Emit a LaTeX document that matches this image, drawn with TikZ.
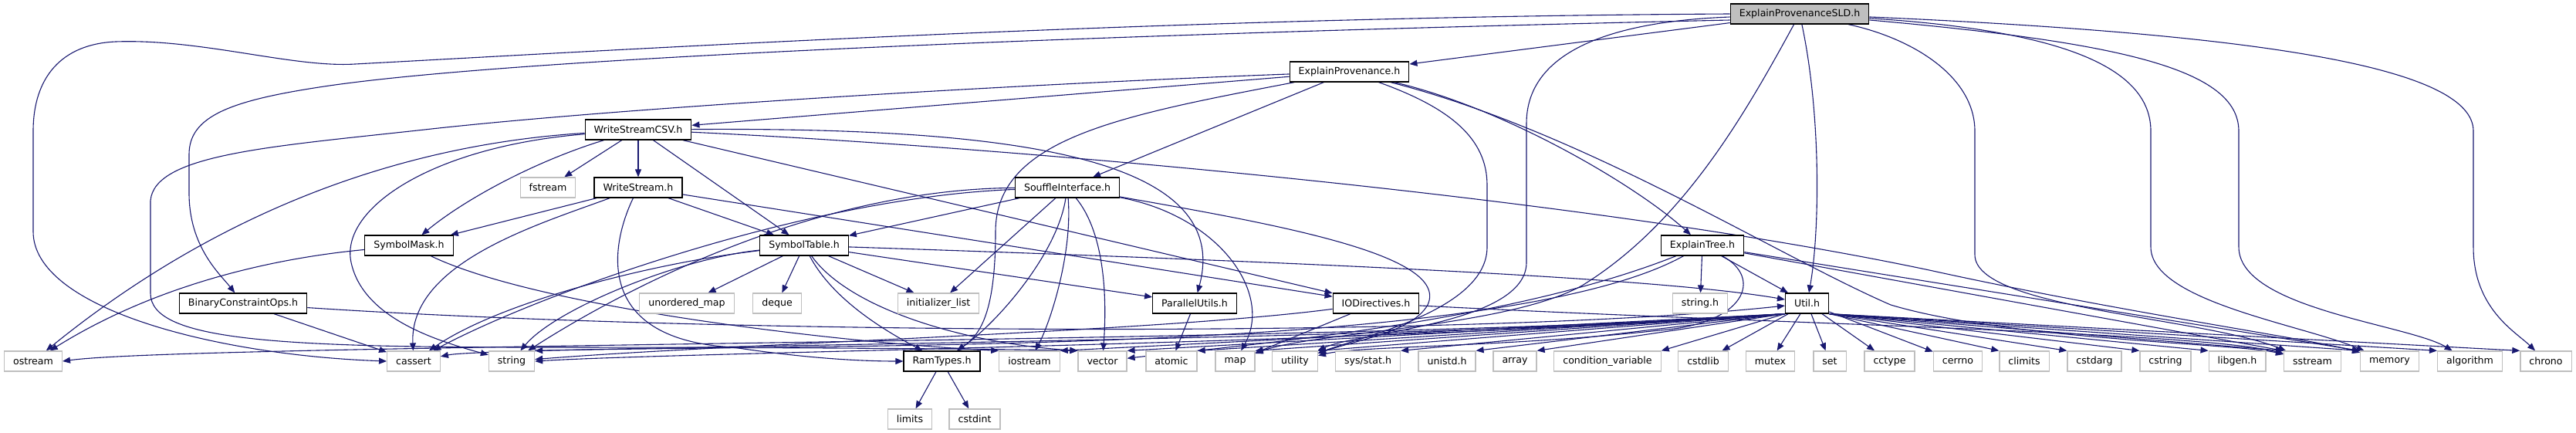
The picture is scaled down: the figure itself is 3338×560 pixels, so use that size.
\documentclass[tikz,border=0pt]{standalone}
\usepackage{fontspec}
\setmainfont{DejaVu Sans}
\usetikzlibrary{arrows.meta,backgrounds}
\definecolor{edgeblue}{HTML}{191970}
\definecolor{extgrey}{HTML}{BFBFBF}
\definecolor{rootgrey}{HTML}{BFBFBF}

\begin{document}
\begin{tikzpicture}[x=1pt, y=-1pt]
    \tikzstyle{header} = [rectangle, draw=black, fill=white, line width=1.2pt, font=\fontsize{12.6}{14}\selectfont, inner xsep=11.5pt, inner ysep=0pt, minimum height=26pt]
    \tikzstyle{sysheader} = [header, draw=extgrey]
    \tikzstyle{mainheader} = [header, fill=rootgrey]
    \tikzstyle{dep} = [line width=1.1pt, -{Triangle[length=10pt, width=8pt]}, draw=edgeblue]

    \useasboundingbox (0,0) rectangle (3338,560);

    \node [mainheader] (sld) at (2332,18) {ExplainProvenanceSLD.h};
    \node [header] (ep) at (1748.5,93) {ExplainProvenance.h};
    \node [header] (wscsv) at (827,168) {WriteStreamCSV.h};
    \node [sysheader] (fstream) at (710,243) {fstream};
    \node [header] (ws) at (827,243) {WriteStream.h};
    \node [header] (si) at (1383,243) {SouffleInterface.h};
    \node [header] (smask) at (530,318) {SymbolMask.h};
    \node [header] (stable) at (1042,318) {SymbolTable.h};
    \node [header] (etree) at (2206,318) {ExplainTree.h};
    \node [header] (bco) at (315,393) {BinaryConstraintOps.h};
    \node [sysheader] (umap) at (890,393) {unordered\_map};
    \node [sysheader] (deque) at (1007,393) {deque};
    \node [sysheader] (initl) at (1216,393) {initializer\_list};
    \node [header] (putils) at (1548,393) {ParallelUtils.h};
    \node [header] (iodir) at (1783,393) {IODirectives.h};
    \node [sysheader] (stringh) at (2203,393) {string.h};
    \node [header] (util) at (2341.6,393) {Util.h};
    \node [sysheader] (ostream) at (43,468) {ostream};
    \node [sysheader] (cassert) at (536,468) {cassert};
    \node [sysheader] (string) at (663,468) {string};
    \node [header] (ramtypes) at (1220.5,468) {RamTypes.h};
    \node [sysheader] (iostream) at (1334,468) {iostream};
    \node [sysheader] (vector) at (1428.5,468) {vector};
    \node [sysheader] (atomic) at (1518,468) {atomic};
    \node [sysheader] (map) at (1600.5,468) {map};
    \node [sysheader] (utility) at (1678,468) {utility};
    \node [sysheader] (sysstat) at (1772.5,468) {sys/stat.h};
    \node [sysheader] (unistd) at (1875,468) {unistd.h};
    \node [sysheader] (array) at (1963,468) {array};
    \node [sysheader] (condvar) at (2083,468) {condition\_variable};
    \node [sysheader] (cstdlib) at (2207,468) {cstdlib};
    \node [sysheader] (mutex) at (2294,468) {mutex};
    \node [sysheader] (set) at (2371,468) {set};
    \node [sysheader] (cctype) at (2448.5,468) {cctype};
    \node [sysheader] (cerrno) at (2537,468) {cerrno};
    \node [sysheader] (climits) at (2623,468) {climits};
    \node [sysheader] (cstdarg) at (2714,468) {cstdarg};
    \node [sysheader] (cstring) at (2806,468) {cstring};
    \node [sysheader] (libgen) at (2899,468) {libgen.h};
    \node [sysheader] (sstream) at (2996.5,468) {sstream};
    \node [sysheader] (memory) at (3096.5,468) {memory};
    \node [sysheader] (algorithm) at (3200.5,468) {algorithm};
    \node [sysheader] (chrono) at (3299,468) {chrono};
    \node [sysheader] (limits) at (1179,543) {limits};
    \node [sysheader] (cstdint) at (1263,543) {cstdint};

    \begin{scope}[on background layer]
    \draw [dep] (sld) -- (ep);
    \draw [dep] ([yshift=-8pt]sld.west) .. controls (1600,40) and (700,70) .. (420,112) .. controls (300,130) and (245,150) .. (245,200) -- (245,250) .. controls (245,320) and (285,355) .. (bco);
    \draw [dep] (sld.west) .. controls (1500,22) and (800,65) .. (460,83) .. controls (380,88) and (260,50) .. (150,54) .. controls (80,57) and (43,100) .. (43,170) -- (43,300) .. controls (43,400) and (280,460) .. (cassert.west);
    \draw [dep] (sld) .. controls (2360,150) and (2358,300) .. (util);
    \draw [dep] ([yshift=-4pt]sld.west) .. controls (2080,28) and (1978,70) .. (1978,160) -- (1978,340) .. controls (1978,420) and (1760,430) .. (utility);
    \draw [dep] (sld) .. controls (2260,150) and (2180,290) .. (2050,370) .. controls (1950,425) and (1700,430) .. (map);
    \draw [dep] (sld) .. controls (2480,50) and (2559,100) .. (2559,170) -- (2559,330) .. controls (2559,400) and (2850,410) .. (sstream);
    \draw [dep] (sld) .. controls (2680,40) and (2787,90) .. (2787,170) -- (2787,320) .. controls (2787,390) and (2980,420) .. (memory);
    \draw [dep] (sld) .. controls (2750,55) and (2901,90) .. (2901,170) -- (2901,320) .. controls (2901,400) and (3120,420) .. (algorithm);
    \draw [dep] (sld) .. controls (2950,45) and (3205,90) .. (3205,170) -- (3205,320) .. controls (3205,400) and (3260,430) .. (chrono);

    \draw [dep] (ep) -- (wscsv);
    \draw [dep] (ep) -- (si);
    \draw [dep] (ep) .. controls (1950,140) and (2120,240) .. (etree);
    \draw [dep] (ep) .. controls (1450,150) and (1290,180) .. (1290,300) .. controls (1290,410) and (1268,435) .. (ramtypes);
    \draw [dep] (ep) .. controls (1880,140) and (1927,180) .. (1927,240) -- (1927,320) .. controls (1927,400) and (1770,435) .. (utility);
    \draw [dep] (ep) .. controls (2050,170) and (2300,330) .. (2450,395) .. controls (2600,440) and (2900,445) .. (sstream);
    \draw [dep] (ep) .. controls (1300,110) and (800,140) .. (550,168) .. controls (350,190) and (200,200) .. (195,260) -- (195,380) .. controls (195,440) and (350,450) .. (700,450) .. controls (1000,450) and (1300,452) .. (vector.north west);

    \draw [dep] (wscsv) -- (ws);
    \draw [dep] (wscsv) -- (fstream);
    \draw [dep] (wscsv) -- (stable);
    \draw [dep] (wscsv) .. controls (690,210) and (600,260) .. (smask);
    \draw [dep] (wscsv) .. controls (480,190) and (250,300) .. (ostream);
    \draw [dep] (wscsv) .. controls (560,190) and (440,270) .. (455,340) .. controls (470,410) and (560,440) .. (string);
    \draw [dep] (wscsv) .. controls (1300,165) and (1600,200) .. (putils);
    \draw [dep] (wscsv) -- (iodir);
    \draw [dep] (wscsv) .. controls (1300,190) and (2050,255) .. (2500,350) .. controls (2750,405) and (3000,440) .. (memory);

    \draw [dep] (ws) -- (smask);
    \draw [dep] (ws) -- (stable);
    \draw [dep] (ws) .. controls (700,290) and (530,340) .. (cassert);
    \draw [dep] (ws) .. controls (790,320) and (770,440) .. (950,450) .. controls (1050,465) and (1120,468) .. (ramtypes);
    \draw [dep] (ws) -- (iodir);

    \draw [dep] (smask) .. controls (350,335) and (200,370) .. (ostream);
    \draw [dep] (smask) .. controls (700,400) and (1100,445) .. (iostream.north west);

    \draw [dep] (stable) .. controls (850,340) and (650,390) .. (cassert);
    \draw [dep] (stable) .. controls (880,335) and (720,400) .. (string);
    \draw [dep] (stable) -- (umap);
    \draw [dep] (stable) -- (deque);
    \draw [dep] (stable) .. controls (1080,390) and (1150,430) .. (ramtypes);
    \draw [dep] (stable) .. controls (1100,400) and (1250,445) .. (vector.north west);
    \draw [dep] (stable) -- (initl);
    \draw [dep] (stable) -- (putils);
    \draw [dep] (stable) .. controls (1700,340) and (2150,360) .. (util);

    \draw [dep] (si) -- (stable);
    \draw [dep] (si) .. controls (1050,255) and (700,380) .. (cassert);
    \draw [dep] (si) .. controls (1050,245) and (800,380) .. (string);
    \draw [dep] (si) -- (initl);
    \draw [dep] (si) .. controls (1370,330) and (1290,420) .. (ramtypes);
    \draw [dep] (si) .. controls (1390,330) and (1360,420) .. (iostream);
    \draw [dep] (si) .. controls (1430,300) and (1435,380) .. (vector);
    \draw [dep] (si) .. controls (1580,280) and (1650,380) .. (map);
    \draw [dep] (si) .. controls (1650,290) and (1880,330) .. (1850,395) .. controls (1830,430) and (1760,440) .. (utility);

    \draw [dep] (etree) -- (stringh);
    \draw [dep] (etree) -- (util);
    \draw [dep] (etree) -- (memory.north west);
    \draw [dep] (etree) -- (sstream.north west);
    \draw [dep] (etree) .. controls (1950,460) and (1100,445) .. (string.north east);
    \draw [dep] (etree) .. controls (1950,420) and (1600,448) .. (vector);
    \draw [dep] (etree) .. controls (2285,360) and (2262,420) .. (2150,428) .. controls (1950,450) and (1760,448) .. (utility);

    \draw [dep] (bco) -- (cassert);
    \draw [dep] (bco) .. controls (900,432) and (1900,440) .. (util);
    \draw [dep] (putils) -- (atomic);
    \draw [dep] (iodir) -- (map);
    \draw [dep] (iodir) .. controls (1500,430) and (950,445) .. (string);
    \draw [dep] (iodir) .. controls (2300,420) and (2850,430) .. (sstream);
    \draw [dep] (ramtypes) -- (limits);
    \draw [dep] (ramtypes) -- (cstdint);

    \draw [dep] (util.south west) .. controls (1800,445) and (250,445) .. (ostream.east);
    \draw [dep] (util.south west) .. controls (1800,445) and (640,448) .. (cassert.10);
    \draw [dep] (util.south west) .. controls (1800,445) and (892,456) .. (string.east);
    \draw [dep] (util.south west) -- (iostream.north east);
    \draw [dep] (util.south west) -- (vector.north east);
    \draw [dep] (util.south west) -- (atomic.north east);
    \draw [dep] (util.south west) -- (map.north east);
    \draw [dep] (util.south west) -- (utility.north east);
    \draw [dep] (util.south west) -- (sysstat.north east);
    \draw [dep] (util.south west) -- (unistd.north east);
    \draw [dep] (util.south west) -- (array.north east);
    \draw [dep] (util.south west) -- (condvar.north east);
    \draw [dep] (util) -- (cstdlib);
    \draw [dep] (util) -- (mutex);
    \draw [dep] (util) -- (set);
    \draw [dep] (util) -- (cctype);
    \draw [dep] (util) -- (cerrno);
    \draw [dep] (util.south east) -- (climits.north west);
    \draw [dep] (util.south east) -- (cstdarg.north west);
    \draw [dep] (util.south east) -- (cstring.north west);
    \draw [dep] (util.south east) -- (libgen.north west);
    \draw [dep] (util.south east) -- (sstream.north west);
    \draw [dep] (util.south east) -- (memory.north west);
    \draw [dep] (util.south east) -- (algorithm.north west);
    \draw [dep] (util.south east) -- (chrono.north west);
    \end{scope}
\end{tikzpicture}
\end{document}
